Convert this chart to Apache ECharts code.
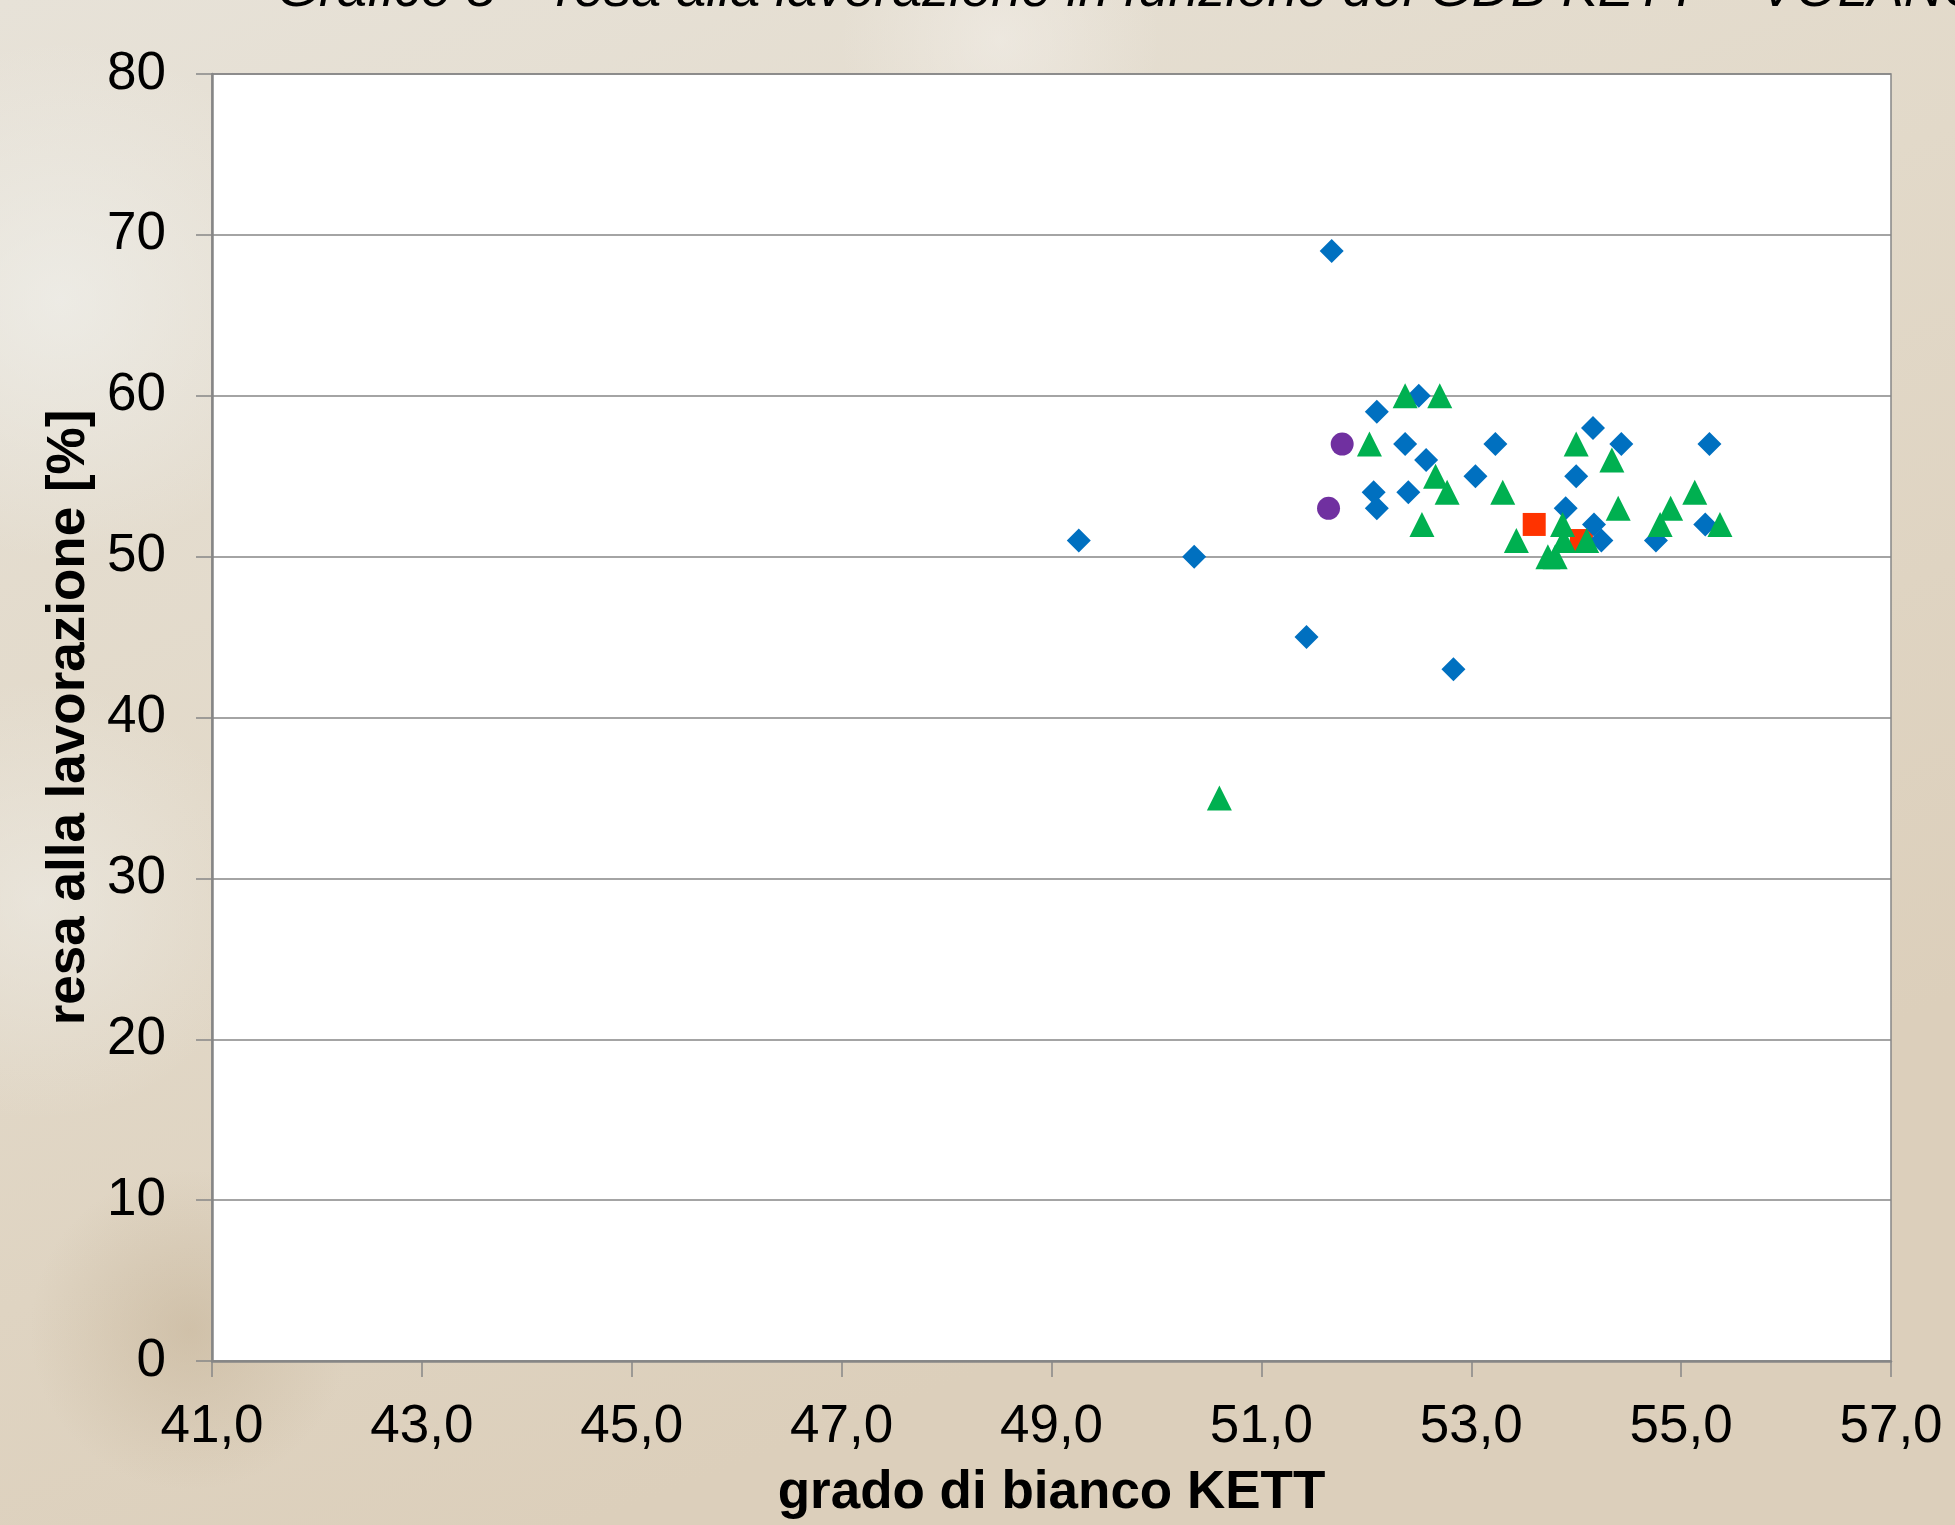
<!DOCTYPE html>
<html>
<head>
<meta charset="utf-8">
<script src="https://cdn.jsdelivr.net/npm/echarts@6/dist/echarts.min.js"></script>
<style>
html,body{margin:0;padding:0;}
#chart{width:1955px;height:1525px;}
</style>
</head>
<body>
<div id="chart"></div>
<script>
// ---- data ----
const titleText = 'Grafico 8 – resa alla lavorazione in funzione del GDB KETT – VOLANO';
const xAxisName = 'grado di bianco KETT';
const yAxisName = 'resa alla lavorazione [%]';
const xMin = 41, xMax = 57, xStep = 2;
const yMin = 0, yMax = 80, yStep = 10;

const blueX = [49.26, 50.36, 51.43, 51.67, 52.07, 52.10, 52.10, 52.37, 52.50, 52.57, 52.83, 52.40, 53.04, 53.23, 53.90, 54.00, 54.16, 54.17, 54.24, 54.43, 54.76, 55.23, 55.27];
const blueY = [51, 50, 45, 69, 54, 53, 59, 57, 60, 56, 43, 54, 55, 57, 53, 55, 58, 52, 51, 57, 51, 52, 57];

const redX = [53.60, 54.05];
const redY = [52, 51];

const greenX = [50.60, 52.03, 52.37, 52.70, 52.66, 52.77, 52.53, 53.30, 53.43, 53.73, 53.80, 53.87, 53.88, 54.00, 54.10, 54.34, 54.40, 54.80, 54.90, 55.13, 55.37];
const greenY = [35, 57, 60, 60, 55, 54, 52, 54, 51, 50, 50, 52, 51, 57, 51, 56, 53, 52, 53, 54, 52];

const purpleX = [51.64, 51.77];
const purpleY = [53, 57];

// ---- build ----
const pts = (xs, ys) => xs.map((x, i) => [x - xMin, ys[i]]);
const chart = echarts.init(document.getElementById('chart'));
const labelFont = { fontFamily: 'Liberation Sans, Arial, sans-serif', fontSize: 53, color: '#000' };
const nameFont = { fontFamily: 'Liberation Sans, Arial, sans-serif', fontSize: 53, fontWeight: 'bold', color: '#000' };
const gridColor = '#868686';

function mk(name, xs, ys, symbol, color, z) {
  return {
    name, type: 'scatter', data: pts(xs, ys), symbol, symbolSize: symbol === 'triangle' ? 25 : (symbol === 'diamond' ? 24 : 23),
    itemStyle: { color, opacity: 1 }, z, silent: true, animation: false
  };
}

chart.setOption({
  animation: false,
  backgroundColor: {
    type: 'linear', x: 0, y: 0, x2: 0.3, y2: 1,
    colorStops: [
      { offset: 0, color: '#e7e2d8' },
      { offset: 0.5, color: '#e2d9c9' },
      { offset: 1, color: '#dccfbb' }
    ]
  },
  graphic: [
    { type: 'circle', shape: { cx: 60, cy: 300, r: 260 }, style: { fill: { type: 'radial', x: 0.5, y: 0.5, r: 0.5, colorStops: [{ offset: 0, color: 'rgba(240,240,236,0.7)' }, { offset: 1, color: 'rgba(240,240,236,0)' }] } }, z: -10, silent: true },
    { type: 'circle', shape: { cx: 40, cy: 900, r: 220 }, style: { fill: { type: 'radial', x: 0.5, y: 0.5, r: 0.5, colorStops: [{ offset: 0, color: 'rgba(238,236,230,0.6)' }, { offset: 1, color: 'rgba(238,236,230,0)' }] } }, z: -10, silent: true },
    { type: 'circle', shape: { cx: 1000, cy: 40, r: 160 }, style: { fill: { type: 'radial', x: 0.5, y: 0.5, r: 0.5, colorStops: [{ offset: 0, color: 'rgba(242,238,232,0.6)' }, { offset: 1, color: 'rgba(242,238,232,0)' }] } }, z: -10, silent: true },
    { type: 'circle', shape: { cx: 190, cy: 1330, r: 160 }, style: { fill: { type: 'radial', x: 0.5, y: 0.5, r: 0.5, colorStops: [{ offset: 0, color: 'rgba(190,170,140,0.45)' }, { offset: 1, color: 'rgba(190,170,140,0)' }] } }, z: -10, silent: true },
    {
      type: 'text', left: 277, top: -36, silent: true, z: 10,
      style: { text: titleText, fontFamily: 'Liberation Sans, Arial, sans-serif', fontSize: 54, fontStyle: 'italic', fill: '#000' }
    }
  ],
  grid: { left: 212, right: 64, top: 74, bottom: 147, containLabel: false, show: true, backgroundColor: '#ffffff', borderColor: gridColor, borderWidth: 1.5 },
  xAxis: {
    type: 'value', min: 0, max: xMax - xMin, interval: xStep,
    name: xAxisName, nameLocation: 'middle', nameGap: 106, nameTextStyle: nameFont,
    axisLine: { show: true, onZero: false, lineStyle: { color: gridColor, width: 2.5 } },
    axisTick: { show: true, inside: false, length: 16, lineStyle: { color: gridColor, width: 1.5 } },
    axisLabel: Object.assign({ margin: 40, formatter: v => (v + xMin).toFixed(1).replace('.', ',') }, labelFont),
    splitLine: { show: false }
  },
  yAxis: {
    type: 'value', min: yMin, max: yMax, interval: yStep,
    name: yAxisName, nameLocation: 'middle', nameGap: 107, nameTextStyle: nameFont,
    axisLine: { show: true, onZero: false, lineStyle: { color: gridColor, width: 2.5 } },
    axisTick: { show: true, inside: false, length: 16, lineStyle: { color: gridColor, width: 1.5 } },
    axisLabel: Object.assign({ margin: 46 }, labelFont),
    splitLine: { show: true, lineStyle: { color: gridColor, width: 1.5 } }
  },
  series: [
    mk('blue', blueX, blueY, 'diamond', '#0070C0', 2),
    mk('red', redX, redY, 'rect', '#FF3300', 1),
    mk('green', greenX, greenY, 'triangle', '#00B050', 3),
    mk('purple', purpleX, purpleY, 'circle', '#7030A0', 4)
  ]
});
</script>
</body>
</html>
